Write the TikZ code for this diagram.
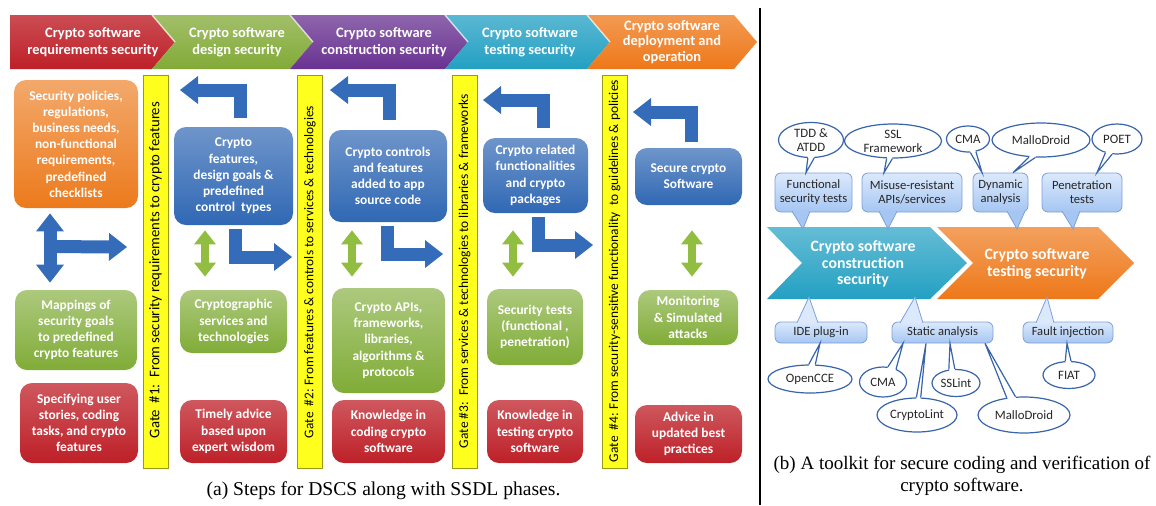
\documentclass[tikz,border=0pt]{standalone}
\usepackage{fontspec}
\setmainfont{Carlito}
\newfontfamily\capfont{Liberation Serif}
\usetikzlibrary{positioning,calc,shapes.geometric,arrows.meta}

\definecolor{chred}{RGB}{190,32,40}
\definecolor{chgreen}{RGB}{130,170,55}
\definecolor{chpurple}{RGB}{105,50,145}
\definecolor{chcyan}{RGB}{35,160,195}
\definecolor{chorange}{RGB}{238,120,25}
\definecolor{bxorange}{RGB}{236,122,28}
\definecolor{bxblue}{RGB}{48,104,180}
\definecolor{bxgreen}{RGB}{128,172,55}
\definecolor{bxred}{RGB}{190,32,40}
\definecolor{gateyel}{RGB}{255,255,30}
\definecolor{arblue}{RGB}{52,108,185}
\definecolor{argreen}{RGB}{145,190,65}
\definecolor{tooltop}{RGB}{220,233,252}
\definecolor{toolbot}{RGB}{165,198,242}
\definecolor{toolline}{RGB}{125,160,215}
\definecolor{ellline}{RGB}{55,100,170}

\begin{document}
\begin{tikzpicture}[x=0.5pt,y=-0.5pt,
    phase/.style={text=white,align=center,font=\bfseries\fontsize{7.2}{8.3}\selectfont},
    box/.style={rounded corners=6pt,align=center,text=white,inner sep=1pt,
      font=\bfseries\fontsize{6.7}{8.1}\selectfont},
    orangebox/.style={box,top color=bxorange!65!white,bottom color=bxorange},
    bluebox/.style={box,top color=bxblue!70!white,bottom color=bxblue},
    greenbox/.style={box,top color=bxgreen!65!white,bottom color=bxgreen},
    redbox/.style={box,top color=bxred!75!white,bottom color=bxred},
    gate/.style={fill=gateyel,draw=gateyel!60!black,line width=0.4pt,
      minimum width=12.5pt,minimum height=196.5pt,inner sep=0pt},
    gatetext/.style={rotate=90,anchor=west,inner sep=0pt,font=\fontsize{6.4}{7}\selectfont},
    bluearr/.style={draw=arblue,line width=6.5pt,
      -{Triangle[width=14pt,length=9pt,line width=0pt]}},
    greenarr/.style={draw=argreen,line width=4pt,
      {Triangle[width=11pt,length=7pt,line width=0pt]}-{Triangle[width=11pt,length=7pt,line width=0pt]}},
    phaseb/.style={text=white,align=center,font=\bfseries\fontsize{7.9}{8.3}\selectfont},
    tool/.style={rounded corners=3pt,top color=tooltop,bottom color=toolbot,draw=toolline,
      line width=0.4pt,align=center,inner sep=0.5pt,text=black!85,font=\fontsize{6.3}{7}\selectfont},
    tel/.style={ellipse,draw=ellline,fill=white,line width=0.6pt,inner sep=0pt,
      align=center,text=black!85,font=\fontsize{6.4}{7}\selectfont}
  ]
\useasboundingbox (0,0) rectangle (1156,505);

% phases of the SSDL
\shade[top color=chred!80!white,bottom color=chred] (10,15) -- (152,15) -- (175,42) -- (152,69) -- (10,69) -- cycle;
\foreach \a/\b/\c in {152/290/chgreen,290/445/chpurple,445/587/chcyan,587/734/chorange}{
  \shade[top color=\c!75!white,bottom color=\c] (\a,15) -- (\b,15) -- (\b+23,42) -- (\b,69) -- (\a,69) -- (\a+23,42) -- cycle;
  \draw[white,opacity=0.7,line width=0.7pt] (\a,15) -- (\a+23,42);
}
\node[phase] (p1) at (93,42) {Crypto software\\requirements security};
\node[phase] (p2) at (237,42) {Crypto software\\design security};
\node[phase] (p3) at (384,42) {Crypto software\\construction security};
\node[phase] (p4) at (530,42) {Crypto software\\testing security};
\node[phase,font=\bfseries\fontsize{7.2}{7.8}\selectfont] (p5) at (672,42) {Crypto software\\deployment and\\operation};

% gates
\node[gate] (g1) at (155.5,271.5) {};
\node[gate] (g2) at (310,271.5) {};
\node[gate] (g3) at (464.5,271.5) {};
\node[gate] (g4) at (614.5,271.5) {};
\node[gatetext] at ([yshift=15pt]g1.south) {\resizebox{168pt}{!}{Gate\ \ \#1:\ \ From security requirements to crypto features}};
\node[gatetext] at ([yshift=15pt]g2.south) {\resizebox{166pt}{!}{Gate\ \ \#2: From features \& controls to services \& technologies}};
\node[gatetext] at ([yshift=10pt]g3.south) {\resizebox{177pt}{!}{Gate \#3:\ \ From services \& technologies to libraries \& frameworks}};
\node[gatetext] at ([yshift=3pt]g4.south) {\resizebox{191pt}{!}{Gate\ \ \#4: From security-sensitive functionality\ \ to guidelines \& policies}};

% requirements
\node[orangebox,minimum width=62pt,minimum height=64pt] (pol) at (76,144)
  {Security policies,\\regulations,\\business needs,\\non-functional\\requirements,\\predefined\\checklists};
\node[greenbox,minimum width=61pt,minimum height=40pt] (map) at (76,330)
  {Mappings of\\security goals\\to predefined\\crypto features};
\node[redbox,minimum width=59pt,minimum height=40pt] (usr) at (79,423)
  {Specifying user\\stories, coding\\tasks, and crypto\\features};

% design
\node[bluebox,minimum width=59.5pt,minimum height=49pt] (feat) at (233.5,176)
  {Crypto\\features,\\design goals \&\\predefined\\control\ \ types};
\node[greenbox,minimum width=53.5pt,minimum height=31.5pt] (svc) at (233.5,321.5)
  {Cryptographic\\services and\\technologies};
\node[redbox,minimum width=53.5pt,minimum height=31.5pt] (wis) at (233.5,431.5)
  {Timely advice\\based upon\\expert wisdom};

% construction
\node[bluebox,minimum width=59pt,minimum height=46pt] (ctl) at (388,176)
  {Crypto controls\\and features\\added to app\\source code};
\node[greenbox,minimum width=56.5pt,minimum height=52.5pt] (api) at (388.5,340.5)
  {Crypto APIs,\\frameworks,\\libraries,\\algorithms \&\\protocols};
\node[redbox,minimum width=56.5pt,minimum height=31.5pt] (kcod) at (388.5,431.5)
  {Knowledge in\\coding crypto\\software};

% testing
\node[bluebox,minimum width=52.5pt,minimum height=37.5pt] (pkg) at (535.5,175.5)
  {Crypto related\\functionalities\\and crypto\\packages};
\node[greenbox,minimum width=48pt,minimum height=38pt] (tst) at (535,327)
  {Security tests\\(functional ,\\penetration)};
\node[redbox,minimum width=48pt,minimum height=31.5pt] (ktst) at (535,431.5)
  {Knowledge in\\testing crypto\\software};

% deployment
\node[bluebox,minimum width=53.5pt,minimum height=28.5pt] (sec) at (688.5,176.5)
  {Secure crypto\\Software};
\node[greenbox,minimum width=50pt,minimum height=27.5pt] (mon) at (688,317.5)
  {Monitoring\\\& Simulated\\attacks};
\node[redbox,minimum width=53.5pt,minimum height=29pt] (best) at (688.5,434)
  {Advice in\\updated best\\practices};

% blue arrows
\coordinate (rt1) at (127,247);
\coordinate (lt2) at (180,90);
\coordinate (lt3) at (330,90);
\coordinate (lt4) at (483,100);
\coordinate (lt5) at (633,112);
\coordinate (rt2) at (292,257);
\coordinate (rt3) at (443,254);
\coordinate (rt4) at (593,245);
\draw[bluearr,{Triangle[width=14pt,length=9pt,line width=0pt]}-{Triangle[width=14pt,length=9pt,line width=0pt]},
  shorten <=2.5pt,shorten >=3.5pt] ([xshift=-13pt]pol.south) -- ([xshift=-13pt]map.north);
\draw[bluearr] ($(pol.south)!0.47!(map.north)+(-26,0)$) -- (rt1);
\draw[bluearr] ([xshift=3.25pt,yshift=4.5pt]feat.north) |- (lt2);
\draw[bluearr] ([xshift=0.5pt,yshift=5pt]ctl.north) |- (lt3);
\draw[bluearr] ([xshift=3.75pt,yshift=5pt]pkg.north) |- (lt4);
\draw[bluearr] ([xshift=1.25pt,yshift=3pt]sec.north) |- (lt5);
\draw[bluearr] ([xshift=0.75pt,yshift=-2pt]feat.south) |- (rt2);
\draw[bluearr] ([xshift=-0.5pt,yshift=-2pt]ctl.south) |- (rt3);
\draw[bluearr] ([xshift=1.25pt,yshift=-2pt]pkg.south) |- (rt4);

% green arrows
\draw[greenarr,shorten <=2.5pt,shorten >=6.5pt] (feat.south -| 205,0) -- (svc.north -| 205,0);
\draw[greenarr,shorten <=4pt,shorten >=5.5pt] (ctl.south -| 352,0) -- (api.north -| 352,0);
\draw[greenarr,shorten <=8.5pt,shorten >=6pt] (pkg.south -| 513,0) -- (tst.north -| 513,0);
\draw[greenarr,shorten <=12.5pt,shorten >=6.5pt] (sec.south -| 692,0) -- (mon.north -| 692,0);

\node[font=\capfont\fontsize{9.8}{11}\selectfont] (capa) at (383.5,491) {(a) Steps for DSCS along with SSDL phases.};

\draw[line width=1.3pt] (760,8) -- (760,505);

% toolkit
\shade[top color=chcyan!70!white,bottom color=chcyan] (767,227) -- (930,227) -- (967,263) -- (930,299) -- (767,299) -- (802,263) -- cycle;
\shade[top color=chorange!70!white,bottom color=chorange] (937,227) -- (1098,227) -- (1134,263) -- (1098,299) -- (937,299) -- (973,263) -- cycle;
\node[phaseb] (cc) at (863,264) {Crypto software\\construction\\security};
\node[phaseb] (ct) at (1037,264) {Crypto software\\testing security};

\node[tool,minimum width=38.5pt,minimum height=19.5pt] (fts) at (813.5,192.5) {Functional\\security tests};
\node[tool,minimum width=50pt,minimum height=19.5pt] (mra) at (912,192.5) {Misuse-resistant\\APIs/services};
\node[tool,minimum width=27.5pt,minimum height=19.5pt] (dyn) at (1000.5,192.5) {Dynamic\\analysis};
\node[tool,minimum width=40pt,minimum height=19.5pt] (pen) at (1082,192.5) {Penetration\\tests};
\node[tool,minimum width=46pt,minimum height=10.5pt] (ide) at (821,332.5) {IDE plug-in};
\node[tool,minimum width=50.5pt,minimum height=10.5pt] (sta) at (942.5,332.5) {Static analysis};
\node[tool,minimum width=45pt,minimum height=10.5pt] (flt) at (1068,332.5) {Fault injection};

\foreach \b/\x/\p/\q in {fts/803/792/810,mra/888/879/897,dyn/1017/1007/1025,pen/1073/1062/1080}{
  \fill[toolbot] ($(\b.south -| \p,0)+(0,-1.2)$) -- (\x,229) -- ($(\b.south -| \q,0)+(0,-1.2)$) -- cycle;
  \draw[toolline,line width=0.4pt] ($(\b.south -| \p,0)+(0,-1.2)$) -- (\x,229) -- ($(\b.south -| \q,0)+(0,-1.2)$);
}
\foreach \b/\x/\p/\q in {ide/809/797/818,sta/915/900/923,flt/1047/1036/1054}{
  \fill[tooltop] ($(\b.north -| \p,0)+(0,1.2)$) -- (\x,297) -- ($(\b.north -| \q,0)+(0,1.2)$) -- cycle;
  \draw[toolline,line width=0.4pt] ($(\b.north -| \p,0)+(0,1.2)$) -- (\x,297) -- ($(\b.north -| \q,0)+(0,1.2)$);
}

\node[tel,minimum width=32.5pt,minimum height=17.5pt] (tdd) at (811,140) {TDD \&\\ATDD};
\node[tel,minimum width=48.5pt,minimum height=17pt] (ssl) at (893,141) {SSL\\Framework};
\node[tel,minimum width=21.5pt,minimum height=13pt] (cmaa) at (968,139) {CMA};
\node[tel,minimum width=49pt,minimum height=17pt] (mala) at (1041,140) {MalloDroid};
\node[tel,minimum width=25pt,minimum height=15pt] (poet) at (1117,139) {POET};
\node[tel,minimum width=42pt,minimum height=14pt] (occe) at (810,379) {OpenCCE};
\node[tel,minimum width=23.5pt,minimum height=15pt] (cmab) at (883,382) {CMA};
\node[tel,minimum width=40pt,minimum height=17pt] (clnt) at (917,415) {CryptoLint};
\node[tel,minimum width=24pt,minimum height=13.5pt] (slnt) at (956,383) {SSLint};
\node[tel,minimum width=46pt,minimum height=18pt] (malb) at (1024,415) {MalloDroid};
\node[tel,minimum width=26pt,minimum height=13.5pt] (fiat) at (1069,375) {FIAT};

\foreach \e/\t/\x/\u/\v in {tdd/fts.north/806/-100/-80,ssl/mra.north/884/-110/-92,
    cmaa/dyn.north/982/-80/-58,mala/dyn.north/1013/-125/-108,poet/pen.north/1097/-130/-108,
    occe/ide.south/820/70/95,cmab/sta.south/903/45/72,clnt/sta.south/926/78/92,
    slnt/sta.south/950/95/118,malb/sta.south/985/115/135,fiat/flt.south/1067/82/105}{
  \fill[white] ($(\e.center)!0.8!(\e.\u)$) -- (\e.\u) -- (\t -| \x,0) -- (\e.\v) -- ($(\e.center)!0.8!(\e.\v)$) -- cycle;
  \draw[ellline,line width=0.6pt] (\e.\u) -- (\t -| \x,0) -- (\e.\v);
}

\node[font=\capfont\fontsize{9.5}{11}\selectfont,align=center] (capb) at (962,476)
  {(b) A toolkit for secure coding and verification of\\crypto software.};
\end{tikzpicture}
\end{document}
